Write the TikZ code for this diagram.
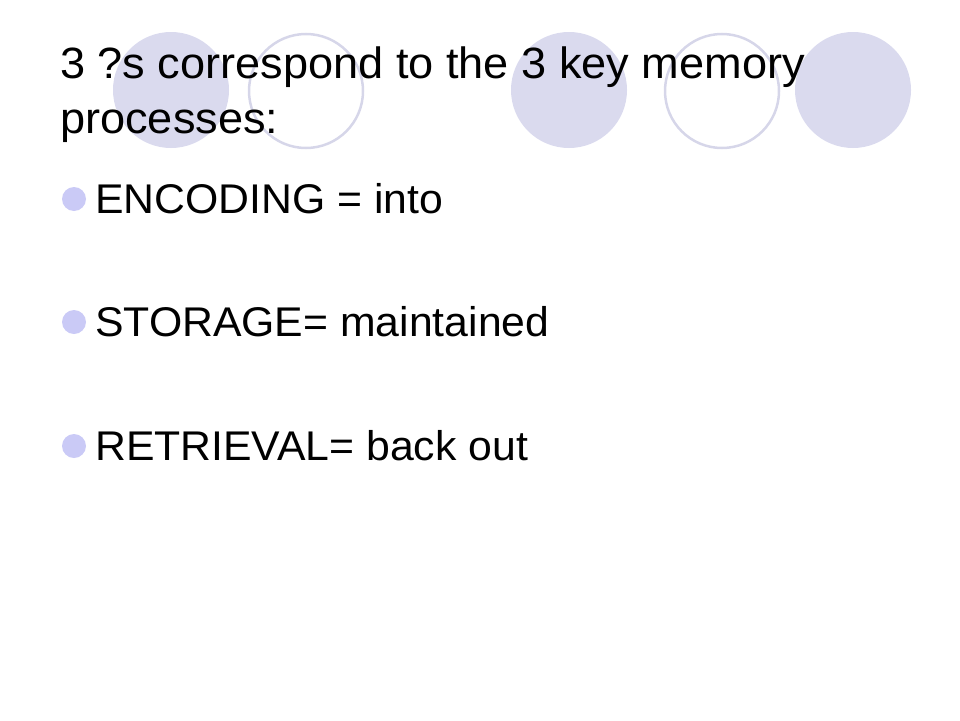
\documentclass[tikz,border=0pt]{standalone}
\usepackage{fontspec}
\setmainfont{Liberation Sans}[FakeStretch=1.03]
\usepackage{tikz}
\definecolor{lv}{HTML}{DADAEE}
\definecolor{lvl}{HTML}{D6D6E9}
\definecolor{bl}{HTML}{CACAF6}
\tikzstyle{bul} = [circle, fill=bl, inner sep=0pt, minimum size=24pt]
\tikzstyle{txt} = [anchor=base west, inner sep=0pt, font=\fontsize{41.5}{50}\selectfont]
\tikzstyle{ttl} = [txt, font=\fontsize{43.8}{52}\selectfont]

\begin{document}
\begin{tikzpicture}[x=1pt,y=-1pt]
			\useasboundingbox (0,0) rectangle (960,720);
			\fill[lv] (171,90) circle (58pt);
			\draw[lvl,line width=2.5pt] (306,91) circle (57pt);
			\fill[lv] (569,90) circle (58pt);
			\draw[lvl,line width=2.5pt] (722,91) circle (57pt);
			\fill[lv] (853,90) circle (58pt);
			\node[ttl] (title) at (60,78) {3 ?s correspond to the 3 key memory};
			\node[ttl] (title2) at (60,133) {processes:};
			\node[txt] (enc) at (95,213) {ENCODING = into};
			\node[txt] (sto) at (95,336) {STORAGE= maintained};
			\node[txt] (ret) at (95,460) {RETRIEVAL= back out};
			\node[bul] (b1) at (74,199) {};
			\node[bul] (b2) at (74,322) {};
			\node[bul] (b3) at (74,446) {};
		\end{tikzpicture}
\end{document}
